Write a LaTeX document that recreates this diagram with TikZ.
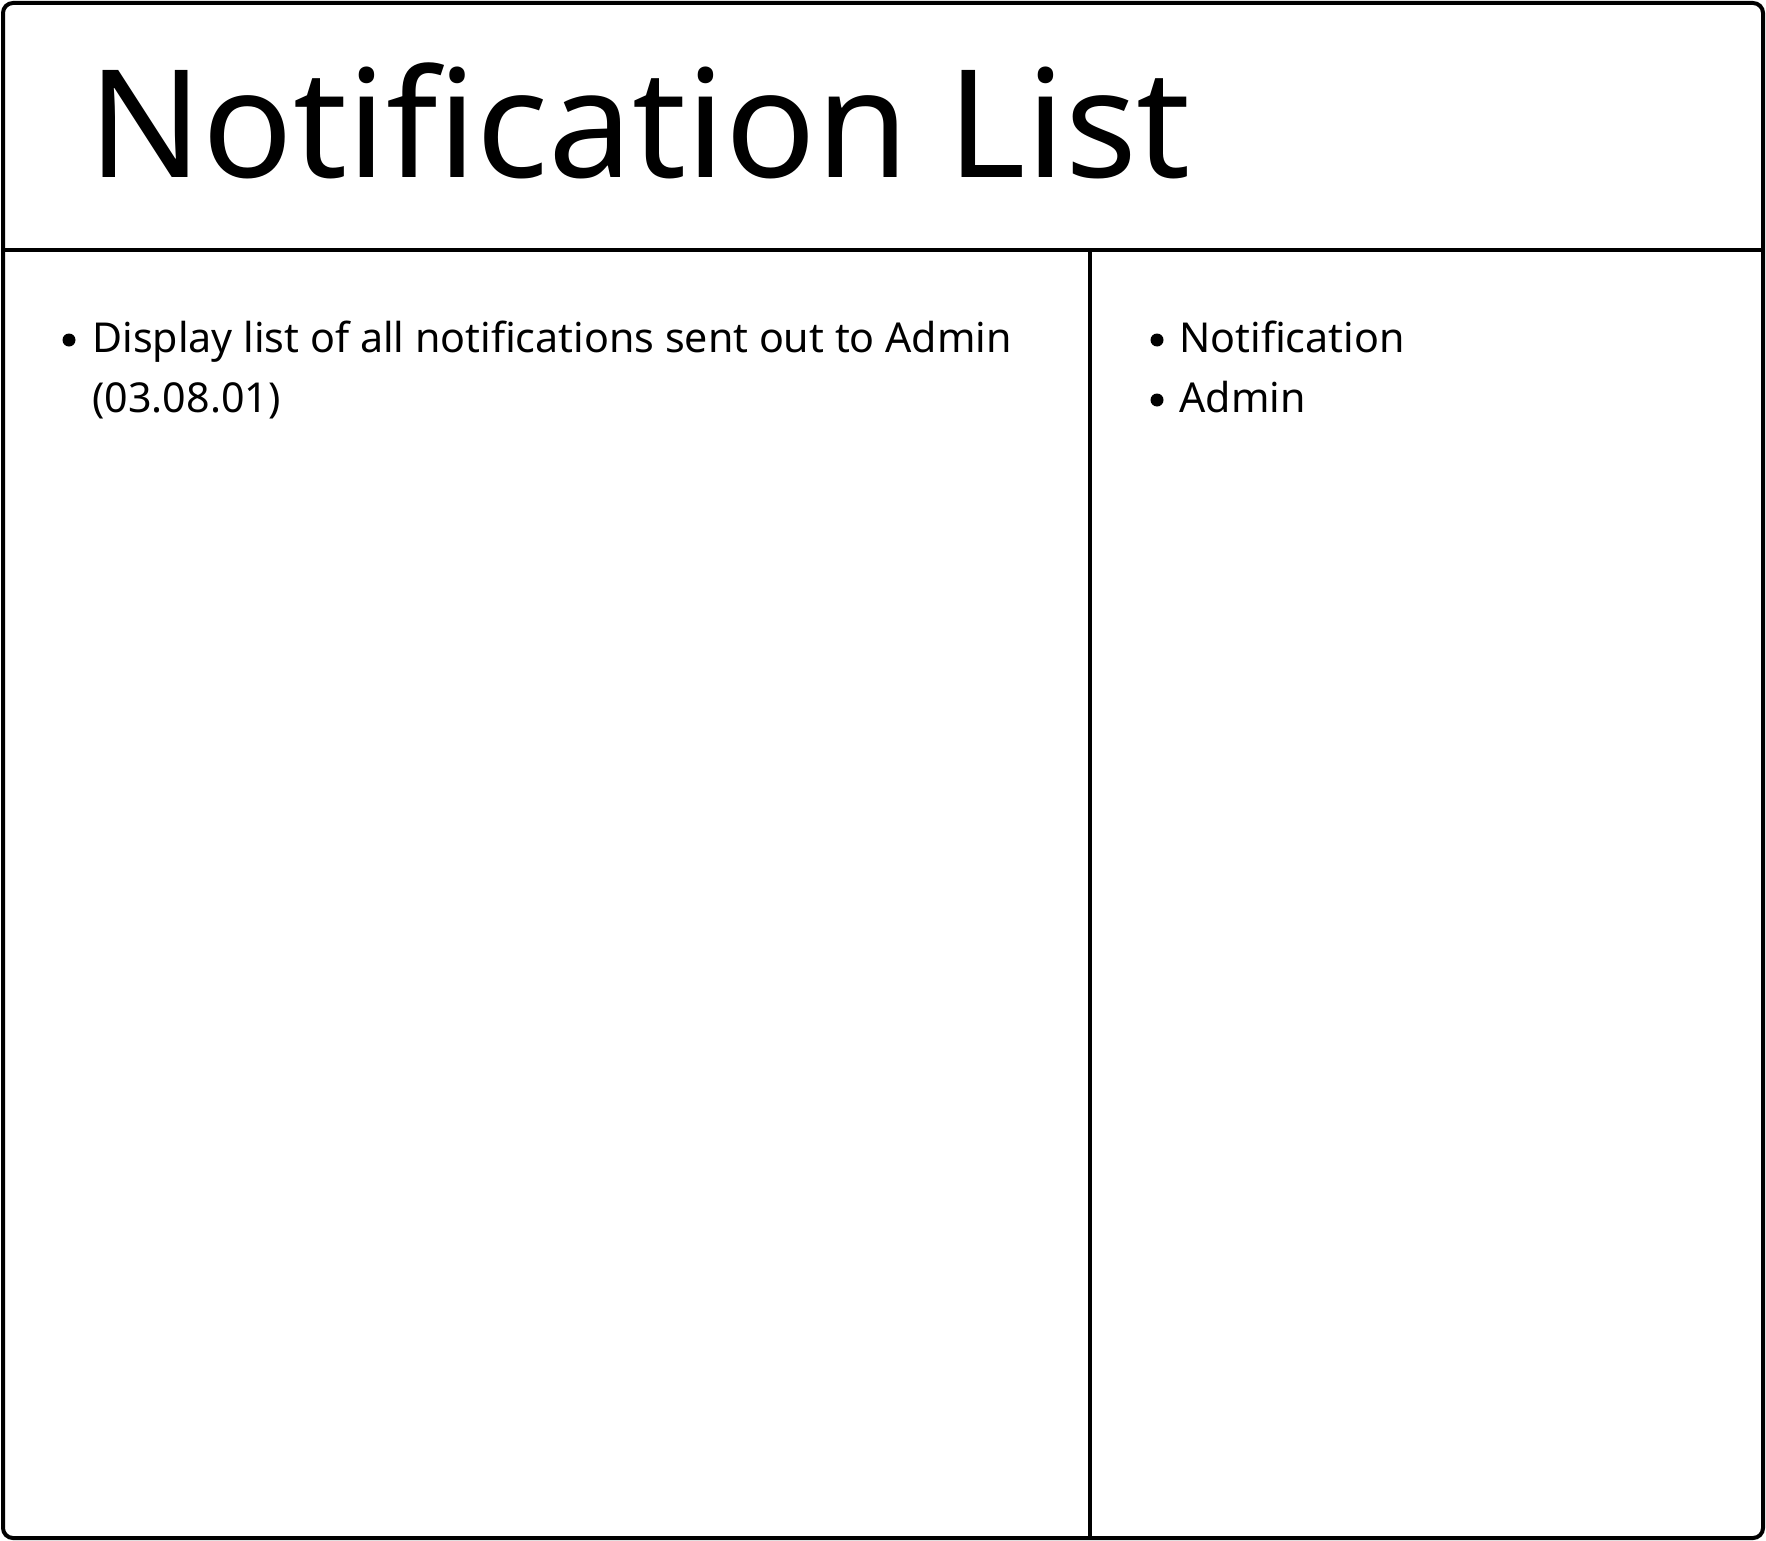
\documentclass[tikz,border=0pt]{standalone}
\usepackage{fontspec}
\setmainfont{Noto Sans}
\usetikzlibrary{positioning}
\tikzset{
  frame/.style = {line width=2pt},
  itemtext/.style = {anchor=base west, inner sep=0pt, font=\fontsize{20.6}{30}\selectfont},
  itemdot/.style = {circle, fill, inner sep=0pt, minimum size=6.5pt},
}
\begin{document}
\begin{tikzpicture}[x=0.5pt,y=-0.5pt]
\useasboundingbox (0,0) rectangle (1766,1541);
\draw[frame, rounded corners=5pt] (3,3) rectangle (1763,1538);
\draw[frame] (3,250) -- (1763,250);
\draw[frame] (1090,250) -- (1090,1538);

\node[anchor=base west, inner sep=0pt, font=\fontsize{75}{90}\selectfont] (title) at (88,177) {Notification List};

% requirement
\node[itemdot] (d1) at (69,340) {};
\node[itemtext] (req) at (92,352) {Display list of all notifications sent out to Admin};
\node[itemtext] (reqid) at (92,412) {(03.08.01)};

% entities
\node[itemdot] (d2) at (1157,340) {};
\node[itemtext] (notif) at (1179,352) {Notification};
\node[itemdot] (d3) at (1157,400) {};
\node[itemtext] (admin) at (1179,412) {Admin};
\end{tikzpicture}
\end{document}
